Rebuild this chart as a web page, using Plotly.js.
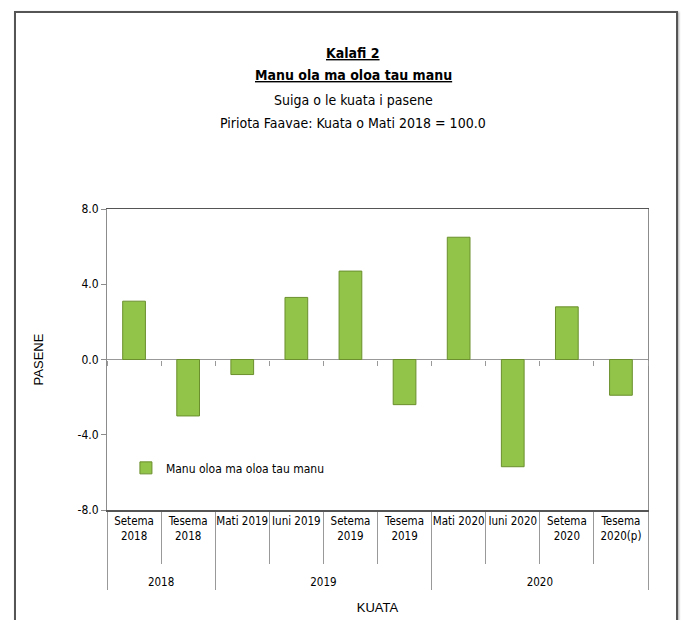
<!DOCTYPE html>
<html>
<head>
<meta charset="utf-8">
<script src="https://cdn.plot.ly/plotly-3.0.1.min.js"></script>
<style>
html,body{margin:0;padding:0;background:#fff;overflow:hidden;}
#chart{position:absolute;left:0;top:0;width:683px;height:620px;}
#frame{position:absolute;left:14px;top:11px;width:660px;height:640px;border:2px solid #555;box-shadow:1px 1px 2px #aaa;pointer-events:none;}
</style>
</head>
<body>
<div id="chart"></div>
<div id="frame"></div>
<script>
// ---- data ----
const years = ['2018','2018','2019','2019','2019','2019','2020','2020','2020','2020'];
const quarters = ['Setema<br>2018','Tesema<br>2018','Mati 2019','Iuni 2019','Setema<br>2019','Tesema<br>2019','Mati 2020','Iuni 2020','Setema<br>2020','Tesema<br>2020(p)'];
const values = [3.1, -3.0, -0.8, 3.3, 4.7, -2.4, 6.5, -5.7, 2.8, -1.9];
const seriesName = 'Manu oloa ma oloa tau manu';
const yTickVals = [-8, -4, 0, 4, 8];
const yTickText = ['-8.0', '-4.0', '0.0', '4.0', '8.0'];
const titleLines = ['<b><u>Kalafi 2</u></b>', '<b><u>Manu ola ma oloa tau manu</u></b>', 'Suiga o le kuata i pasene', 'Piriota Faavae: Kuata o Mati 2018 = 100.0'];

const FONT = 'Liberation Sans Narrow, DejaVu Sans Condensed, Arial Narrow, sans-serif';

// group labels are pushed below the two-line quarter labels
const groupLabels = years.map(y => '<br><br>' + y);

const traces = [
  {
    type: 'bar',
    x: [groupLabels, quarters],
    y: values,
    name: seriesName,
    marker: {color: '#92C44A', line: {color: '#6A8F2C', width: 1}},
    hoverinfo: 'y'
  },
  {
    type: 'scatter',
    x: quarters,
    y: values.map(() => null),
    xaxis: 'x2',
    showlegend: false,
    hoverinfo: 'skip'
  }
];

const ys = [1.518, 1.445, 1.362, 1.286];
const annotations = titleLines.map((t, i) => ({
  text: t, xref: 'paper', yref: 'paper', x: 0.455, y: ys[i],
  xanchor: 'center', yanchor: 'middle', showarrow: false,
  font: {family: FONT, size: 14, color: '#000'}
}));

const layout = {
  width: 683, height: 620,
  margin: {l: 107, r: 35, t: 209, b: 110},
  paper_bgcolor: '#fff', plot_bgcolor: '#fff',
  showlegend: true,
  legend: {x: 0.035, y: 0.14, xanchor: 'left', yanchor: 'middle',
           bgcolor: 'rgba(0,0,0,0)', font: {family: FONT, size: 12, color: '#000'}},
  bargap: 0.58,
  xaxis: {
    type: 'multicategory',
    showline: true, mirror: true, linecolor: '#555', linewidth: 1.5,
    ticks: 'outside', tickson: 'boundaries', ticklen: 52, tickcolor: '#999',
    tickangle: 0,
    showdividers: true, dividercolor: '#999', dividerwidth: 1,
    tickfont: {family: FONT, size: 11.5, color: '#000'},
    showgrid: false, zeroline: false,
    title: {text: 'KUATA', font: {family: 'Liberation Sans, Arial, sans-serif', size: 13, color: '#000'}, standoff: 14}
  },
  xaxis2: {
    type: 'category', overlaying: 'x', anchor: 'free', position: 0.5,
    range: [-0.5, 9.5], showline: false, showgrid: false, zeroline: false,
    ticks: 'outside', tickson: 'boundaries', ticklen: 5, tickcolor: '#999',
    showticklabels: false, fixedrange: true
  },
  yaxis: {
    range: [-8, 8], tickvals: yTickVals, ticktext: yTickText,
    showline: true, mirror: true, linecolor: '#8c8c8c', linewidth: 1,
    ticks: 'outside', ticklen: 5, tickcolor: '#8c8c8c',
    showgrid: false, zeroline: true, zerolinecolor: '#999', zerolinewidth: 1,
    tickfont: {family: FONT, size: 12, color: '#000'},
    title: {text: 'PASENE', font: {family: 'Liberation Sans, Arial, sans-serif', size: 13, color: '#000'}, standoff: 30}
  },
  annotations: annotations
};

Plotly.newPlot('chart', traces, layout, {displayModeBar: false, staticPlot: true});
</script>
</body>
</html>
